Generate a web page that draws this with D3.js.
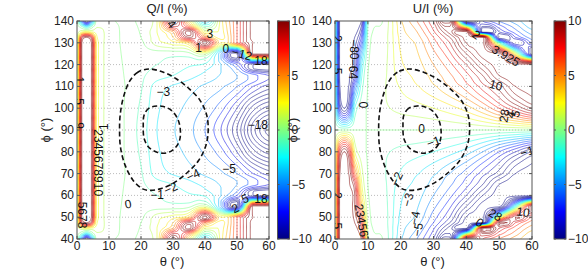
<!DOCTYPE html>
<html lang="en">
<head>
<meta charset="UTF-8">
<title>Q/I and U/I contour maps</title>
<script src="https://cdn.jsdelivr.net/npm/d3@7/dist/d3.min.js"></script>
<style>
  body { margin: 0; background: #fff; }
  svg { display: block; font-family: "Liberation Sans", Arial, Helvetica, sans-serif; }
  .tick-label { font-size: 12px; fill: #222; }
  .title { font-size: 13px; fill: #222; }
  .grid line { stroke: #aaa; stroke-dasharray: 1,2; stroke-width: 0.8; }
  .frame { fill: none; stroke: #555; stroke-width: 1; }
  .clabel { font-size: 12px; fill: #111; }
  .dash { fill: none; stroke: #111; stroke-width: 1.6; stroke-dasharray: 5,3; }
</style>
</head>
<body>
<svg id="chart" width="588" height="271"></svg>
<script>
// sample positions of the gridded maps (degrees)
const thetaGrid = [0, 1.5, 3, 4.5, 6, 8, 10, 15, 20, 25, 30, 35, 40, 45, 50, 55, 60];
const phiGrid = [40, 42.5, 45, 47.5, 50, 55, 60, 65, 70, 80, 90, 100, 110, 115, 120, 125, 130, 132.5, 135, 137.5, 140];

const thetaTicks = [0, 10, 20, 30, 40, 50, 60];
const phiTicks = [40, 50, 60, 70, 80, 90, 100, 110, 120, 130, 140];
const cbarTicks = [-10, -5, 0, 5, 10];
const levels = d3.range(-20, 21); // contour levels, %

// Q/I (%), one row per phiGrid entry (phi = 40 first)
const qRows = [
  [0.3, -6, -11, -6, 0.3, 0.6, 0.2, -0.2, 0.3, 2, 11.5, 3, -4, 2.5, 7, 11.5, 11.5],
  [0.4, -1, -3, -1, 0.8, 0.9, 0.5, -0.2, 0.2, 2, 9, 6, -1, 2.5, 7, 11.5, 11.5],
  [0.5, 2, 2.5, 2, 1.6, 1.1, 0.6, -0.2, 0.1, 2, 5, 11.5, 2, 2.5, 7, 11.5, 11.5],
  [0.5, 9, 11, 9, 2.5, 1.2, 0.6, -0.2, 0, 1.8, 4, 10, 6, 2.5, 7, 11.5, 11.5],
  [0.5, 11, 11.5, 11, 3.2, 1.2, 0.6, -0.2, -0.2, 1.5, 2.5, 4, 11.5, 3, 7, 11, 11.5],
  [0.5, 11, 11.5, 11, 3.2, 1.2, 0.6, -0.15, -0.4, -0.5, -0.6, -0.3, 1.2, -5, -11.5, 11.5, 11.5],
  [0.5, 11, 11.5, 11, 3.2, 1.2, 0.6, -0.1, -0.6, -1.0, -1.4, -1.8, -2.2, -4, -7, -11, -11.5],
  [0.5, 11, 11.5, 11, 3.2, 1.2, 0.6, -0.05, -0.8, -1.5, -2.0, -2.6, -3.3, -4.1, -5, -6.5, -8],
  [0.5, 11, 11.5, 11, 3.2, 1.2, 0.6, 0, -0.9, -2.5, -3.1, -3.6, -4.2, -4.8, -6, -8, -9.5],
  [0.5, 11, 11.5, 11, 3.2, 1.2, 0.6, -0.05, -1.2, -2.8, -3.6, -4.3, -5.2, -6.6, -9, -12.5, -14.5],
  [0.5, 11, 11.5, 11, 3.2, 1.2, 0.6, -0.05, -1.4, -3.0, -3.9, -4.7, -6, -8, -11, -15.5, -18.5],
  [0.5, 11, 11.5, 11, 3.2, 1.2, 0.6, -0.05, -1.2, -2.8, -3.6, -4.3, -5.2, -6.6, -9, -12.5, -14.5],
  [0.5, 11, 11.5, 11, 3.2, 1.2, 0.6, 0, -0.9, -2.5, -3.1, -3.6, -4.2, -4.8, -6, -8, -9.5],
  [0.5, 11, 11.5, 11, 3.2, 1.2, 0.6, -0.05, -0.8, -1.5, -2.0, -2.6, -3.3, -4.1, -5, -6.5, -8],
  [0.5, 11, 11.5, 11, 3.2, 1.2, 0.6, -0.1, -0.6, -1.0, -1.4, -1.8, -2.2, -4, -7, -11, -11.5],
  [0.5, 11, 11.5, 11, 3.2, 1.2, 0.6, -0.15, -0.4, -0.5, -0.6, -0.3, 1.2, -5, -11.5, 11.5, 11.5],
  [0.5, 11, 11.5, 11, 3.2, 1.2, 0.6, -0.2, -0.2, 1.5, 2.5, 4, 11.5, 3, 7, 11, 11.5],
  [0.5, 9, 11, 9, 2.5, 1.2, 0.6, -0.2, 0, 1.8, 4, 10, 6, 2.5, 7, 11.5, 11.5],
  [0.5, 2, 2.5, 2, 1.6, 1.1, 0.6, -0.2, 0.1, 2, 5, 11.5, 2, 2.5, 7, 11.5, 11.5],
  [0.4, -1, -3, -1, 0.8, 0.9, 0.5, -0.2, 0.2, 2, 9, 6, -1, 2.5, 7, 11.5, 11.5],
  [0.3, -6, -11, -6, 0.3, 0.6, 0.2, -0.2, 0.3, 2, 11.5, 3, -4, 2.5, 7, 11.5, 11.5]
];

// U/I (%), same layout
const uRows = [
  [2, 11.5, 11.5, 11.5, 11.5, 11, 1.3, -0.2, -3.8, -6.0, -9.0, -13.5, 12, 8, 6, 4.5, 3],
  [2, 11.5, 11.5, 11.5, 11.5, 10, 1.0, -0.3, -3.6, -5.5, -8.4, -12, -0.5, 10, 7.5, 5.5, 3.5],
  [2, 11.5, 11.5, 11.5, 11.5, 9, 0.8, -0.4, -3.5, -5.0, -7.8, -11.5, -13.5, 12, 9, 6.5, 4.5],
  [2, 11.5, 11.5, 11.5, 11, 8, 0.6, -0.5, -3.3, -4.6, -7.0, -10, -13.5, -13.5, 11, 8, 5.5],
  [2, 11.5, 11.5, 11.5, 10.5, 7, 0.45, -0.5, -3.2, -4.2, -6.5, -9, -13, -13.5, 1, 10, 7],
  [2, 11.5, 11.5, 11.5, 10, 4.8, 0.25, -0.6, -3.0, -3.9, -5.7, -7.8, -11, -13.5, -13.5, -2, 11],
  [2, 11.5, 11.5, 11.5, 10, 3.3, 0.1, -0.7, -2.8, -3.6, -5.0, -6.7, -9, -12, -13.5, -13.5, -13.5],
  [2, 11.5, 11.5, 11, 9, 2.4, 0, -0.8, -2.5, -3.3, -4.4, -5.8, -7.6, -10, -13, -13.5, -13.5],
  [2, 11, 11.5, 10.5, 6, 1.6, -0.05, -0.9, -2.1, -2.9, -3.8, -5.0, -6.5, -8.5, -10.5, -13, -13.5],
  [2, 9, 11, 8, 2, 0.4, -0.1, -0.8, -1.3, -1.6, -2.0, -2.6, -3.5, -5.0, -7.0, -9, -11],
  [0, 0, 0, 0, 0, 0, 0, 0, 0, 0, 0, 0, 0, 0, 0, 0, 0],
  [-2, -9, -11, -8, -2, -0.4, 0.1, 0.8, 1.3, 1.6, 2.0, 2.6, 3.5, 5.0, 7.0, 9, 11],
  [-2, -11, -11.5, -10.5, -6, -1.6, 0.05, 0.9, 2.1, 2.9, 3.8, 5.0, 6.5, 8.5, 10.5, 13, 13.5],
  [-2, -11.5, -11.5, -11, -9, -2.4, 0, 0.8, 2.5, 3.3, 4.4, 5.8, 7.6, 10, 13, 13.5, 13.5],
  [-2, -11.5, -11.5, -11.5, -10, -3.3, -0.1, 0.7, 2.8, 3.6, 5.0, 6.7, 9, 12, 13.5, 13.5, 13.5],
  [-2, -11.5, -11.5, -11.5, -10, -4.8, -0.25, 0.6, 3.0, 3.9, 5.7, 7.8, 11, 13.5, 13.5, 2, -11],
  [-2, -11.5, -11.5, -11.5, -10.5, -7, -0.45, 0.5, 3.2, 4.2, 6.5, 9, 13, 13.5, -1, -10, -7],
  [-2, -11.5, -11.5, -11.5, -11, -8, -0.6, 0.5, 3.3, 4.6, 7.0, 10, 13.5, 13.5, -11, -8, -5.5],
  [-2, -11.5, -11.5, -11.5, -11.5, -9, -0.8, 0.4, 3.5, 5.0, 7.8, 11.5, 13.5, -12, -9, -6.5, -4.5],
  [-2, -11.5, -11.5, -11.5, -11.5, -10, -1.0, 0.3, 3.6, 5.5, 8.4, 12, 0.5, -10, -7.5, -5.5, -3.5],
  [-2, -11.5, -11.5, -11.5, -11.5, -11, -1.3, 0.2, 3.8, 6.0, 9.0, 13.5, -12, -8, -6, -4.5, -3]
];

// dashed black boundaries, [theta, phi], same in both maps
const outerDash = [[22.5, 118], [19, 116.5], [16.5, 112.5], [14.5, 105], [13.5, 97], [13.3, 90], [13.6, 82],
  [15, 74], [17.5, 67], [20.5, 63], [23, 62.3], [26, 63], [30, 65.5], [34.5, 70.5], [38, 76], [40.3, 83],
  [41, 90], [40.5, 97], [38.5, 103.5], [35, 109], [31, 113.5], [27, 116.5]];
const innerDash = [[25, 101], [22.5, 100], [21, 97], [20.7, 92], [21, 86], [22.5, 82], [25, 79.8],
  [28, 79.5], [30.5, 81.5], [32, 85], [32.3, 90], [31.5, 95], [29.5, 99], [27, 100.8]];

// inline contour labels: [theta, phi, text, rotation]
const qLabels = [
  [38, 127.6, "1", 0], [41.5, 134, "3", 0], [29.5, 138.5, "4", 50], [46.5, 127.3, "0", 0],
  [51.5, 124.8, "\u221212", 15], [57.5, 121.5, "18", 0], [27, 107.5, "\u22123", 0], [8.4, 91.5, "1", -90],
  [16, 56, "0", -10], [25, 60.3, "\u22121", 0], [29.3, 63.2, "\u22122", -25], [36.3, 69.3, "\u22124", -25],
  [47.5, 72, "\u22125", 0], [56.5, 92.5, "\u221218", 0], [52.5, 58.5, "5", -25], [49.5, 54, "2", -25],
  [57.5, 58.5, "18", 0], [6.5, 75, "2345678910", 90], [0.6, 113, "1", 90], [0.6, 103, "5", 90],
  [0.6, 92, "9", 90], [1.5, 51, "5678", 90]
];
const uLabels = [
  [26.4, 90.6, "0", 0], [30, 84.5, "\u22121", -20], [18.8, 67.5, "\u22122", -65], [22.3, 58, "\u22123", -75],
  [24.4, 49.6, "\u22124", -80], [25.3, 44.3, "\u22125", -80], [49, 110.5, "10", 15], [58.5, 80, "\u22121", -15],
  [51.6, 96.5, "28", -80], [53.6, 97, "4", -75], [55, 97.5, "5", -70], [8.7, 101.5, "0", -90],
  [57.3, 52.3, "10", 8], [44, 47.5, "0", 35], [48.8, 51, "28", 30], [43, 133.6, "2", 35],
  [52, 124, "3.925", 30], [5.8, 127, "\u221280", 90], [5.5, 118, "\u221264", 90], [8.2, 47, "234567", 80],
  [0.5, 132, "2", 90], [0.5, 117, "5", 90], [0.5, 60, "2", 90], [0.5, 46, "5", 90]
];

const panels = [
  { title: "Q/I (%)", rows: qRows, labels: qLabels, x0: 77, x1: 269, titleX: 167, yLabelX: 50, cbX: 277.5 },
  { title: "U/I (%)", rows: uRows, labels: uLabels, x0: 335, x1: 532, titleX: 433, yLabelX: 297, cbX: 554 }
];
const plotTop = 21, plotBottom = 239, cbW = 12;

// MATLAB jet
function jet(t) {
  t = Math.max(0, Math.min(1, t));
  const c = v => Math.round(255 * Math.max(0, Math.min(1, v)));
  return `rgb(${c(1.5 - Math.abs(4 * t - 3))},${c(1.5 - Math.abs(4 * t - 2))},${c(1.5 - Math.abs(4 * t - 1))})`;
}
const levelColor = v => jet((v + 10) / 20);

// smooth resampling of the read grid for contouring (monotone between samples)
function fracIndex(g, v) {
  let i = d3.bisectRight(g, v) - 1;
  i = Math.max(0, Math.min(g.length - 2, i));
  return i + (v - g[i]) / (g[i + 1] - g[i]);
}
function cubic(p0, p1, p2, p3, t) {
  const v = 0.5 * (2 * p1 + (-p0 + p2) * t + (2 * p0 - 5 * p1 + 4 * p2 - p3) * t * t + (-p0 + 3 * p1 - 3 * p2 + p3) * t * t * t);
  return Math.max(Math.min(p1, p2), Math.min(Math.max(p1, p2), v));
}
function sampleRow(row, u) {
  const n = row.length, i = Math.min(n - 2, Math.floor(u)), t = u - i;
  const at = k => row[Math.max(0, Math.min(n - 1, k))];
  return cubic(at(i - 1), at(i), at(i + 1), at(i + 2), t);
}
function sampleField(rows, theta, phi) {
  const u = fracIndex(thetaGrid, theta), v = fracIndex(phiGrid, phi);
  const m = rows.length, j = Math.min(m - 2, Math.floor(v)), t = v - j;
  const r = k => sampleRow(rows[Math.max(0, Math.min(m - 1, k))], u);
  return cubic(r(j - 1), r(j), r(j + 1), r(j + 2), t);
}

const nx = 241, ny = 201, dTheta = 0.25, dPhi = 0.5;

// split a contour ring where it runs along the grid border
function ringSegments(ring) {
  const onEdge = p => p[0] <= 0 || p[0] >= nx || p[1] <= 0 || p[1] >= ny;
  const k = ring.findIndex(onEdge);
  if (k < 0) return [ring];
  const rot = ring.slice(k, -1).concat(ring.slice(0, k));
  const segs = [];
  let cur = [];
  rot.forEach(p => {
    if (onEdge(p)) { if (cur.length > 1) segs.push(cur); cur = []; }
    else cur.push(p);
  });
  if (cur.length > 1) segs.push(cur);
  return segs;
}

const svg = d3.select("#chart");
const defs = svg.append("defs");

const grad = defs.append("linearGradient").attr("id", "jetGrad")
  .attr("x1", 0).attr("y1", 1).attr("x2", 0).attr("y2", 0);
d3.range(0, 1.0001, 1 / 64).forEach(t => {
  grad.append("stop").attr("offset", t).attr("stop-color", jet(t));
});

panels.forEach((p, pi) => {
  const x = d3.scaleLinear().domain([0, 60]).range([p.x0, p.x1]);
  const y = d3.scaleLinear().domain([40, 140]).range([plotBottom, plotTop]);
  const g = svg.append("g");

  defs.append("clipPath").attr("id", "clip" + pi)
    .append("rect").attr("x", p.x0).attr("y", plotTop).attr("width", p.x1 - p.x0).attr("height", plotBottom - plotTop);

  // grid
  const grid = g.append("g").attr("class", "grid");
  grid.selectAll(".gx").data(thetaTicks.slice(1, -1)).join("line")
    .attr("x1", d => x(d)).attr("x2", d => x(d)).attr("y1", plotTop).attr("y2", plotBottom);
  grid.selectAll(".gy").data(phiTicks.slice(1, -1)).join("line")
    .attr("y1", d => y(d)).attr("y2", d => y(d)).attr("x1", p.x0).attr("x2", p.x1);

  // contours
  const values = new Float64Array(nx * ny);
  for (let j = 0; j < ny; j++)
    for (let i = 0; i < nx; i++)
      values[j * nx + i] = sampleField(p.rows, i * dTheta, 40 + j * dPhi);
  const cs = d3.contours().size([nx, ny]).thresholds(levels)(values);
  const toPx = q => [x((q[0] - 0.5) * dTheta), y(40 + (q[1] - 0.5) * dPhi)];
  const line = d3.line();
  const cg = g.append("g").attr("clip-path", `url(#clip${pi})`);
  cs.forEach(c => {
    const d = [];
    c.coordinates.forEach(poly => poly.forEach(ring => {
      ringSegments(ring).forEach(seg => d.push(line(seg.map(toPx))));
    }));
    if (d.length) cg.append("path").attr("d", d.join(""))
      .attr("fill", "none").attr("stroke", levelColor(c.value)).attr("stroke-width", 0.55);
  });

  // dashed boundaries
  const dl = d3.line().x(d => x(d[0])).y(d => y(d[1])).curve(d3.curveCatmullRomClosed);
  [outerDash, innerDash].forEach(arr => cg.append("path").attr("class", "dash").attr("d", dl(arr)));

  // contour labels
  cg.selectAll(".clabel").data(p.labels).join("text").attr("class", "clabel")
    .attr("text-anchor", "middle").attr("dominant-baseline", "central")
    .attr("transform", d => `translate(${x(d[0])},${y(d[1])}) rotate(${d[3]})`)
    .text(d => d[2]);

  // frame, ticks, tick labels
  g.append("rect").attr("class", "frame").attr("x", p.x0).attr("y", plotTop)
    .attr("width", p.x1 - p.x0).attr("height", plotBottom - plotTop);
  thetaTicks.forEach(t => {
    g.append("line").attr("x1", x(t)).attr("x2", x(t)).attr("y1", plotBottom).attr("y2", plotBottom - 3).attr("stroke", "#555");
    g.append("line").attr("x1", x(t)).attr("x2", x(t)).attr("y1", plotTop).attr("y2", plotTop + 3).attr("stroke", "#555");
    g.append("text").attr("class", "tick-label").attr("x", x(t)).attr("y", 250)
      .attr("text-anchor", "middle").text(t);
  });
  phiTicks.forEach(t => {
    g.append("line").attr("x1", p.x0).attr("x2", p.x0 + 3).attr("y1", y(t)).attr("y2", y(t)).attr("stroke", "#555");
    g.append("line").attr("x1", p.x1).attr("x2", p.x1 - 3).attr("y1", y(t)).attr("y2", y(t)).attr("stroke", "#555");
    g.append("text").attr("class", "tick-label").attr("x", p.x0 - 3).attr("y", y(t))
      .attr("text-anchor", "end").attr("dominant-baseline", "central").text(t);
  });

  // titles
  g.append("text").attr("class", "title").attr("x", p.titleX).attr("y", 13)
    .attr("text-anchor", "middle").text(p.title);
  g.append("text").attr("class", "title").attr("x", (p.x0 + p.x1) / 2 - 1).attr("y", 266)
    .attr("text-anchor", "middle").text("\u03b8 (\u00b0)");
  g.append("text").attr("class", "title")
    .attr("transform", `translate(${p.yLabelX},${(plotTop + plotBottom) / 2}) rotate(-90)`)
    .attr("text-anchor", "middle").text("\u03d5 (\u00b0)");

  // colorbar
  const cy = d3.scaleLinear().domain([-10, 10]).range([plotBottom, plotTop]);
  g.append("rect").attr("x", p.cbX).attr("y", plotTop).attr("width", cbW).attr("height", plotBottom - plotTop)
    .attr("fill", "url(#jetGrad)").attr("stroke", "#555");
  cbarTicks.forEach(t => {
    g.append("line").attr("x1", p.cbX).attr("x2", p.cbX + 2).attr("y1", cy(t)).attr("y2", cy(t)).attr("stroke", "#555");
    g.append("line").attr("x1", p.cbX + cbW).attr("x2", p.cbX + cbW - 2).attr("y1", cy(t)).attr("y2", cy(t)).attr("stroke", "#555");
    g.append("text").attr("class", "tick-label").attr("x", p.cbX + cbW + 2).attr("y", cy(t))
      .attr("dominant-baseline", "central").text(t < 0 ? "\u2212" + Math.abs(t) : t);
  });
});
</script>
</body>
</html>
